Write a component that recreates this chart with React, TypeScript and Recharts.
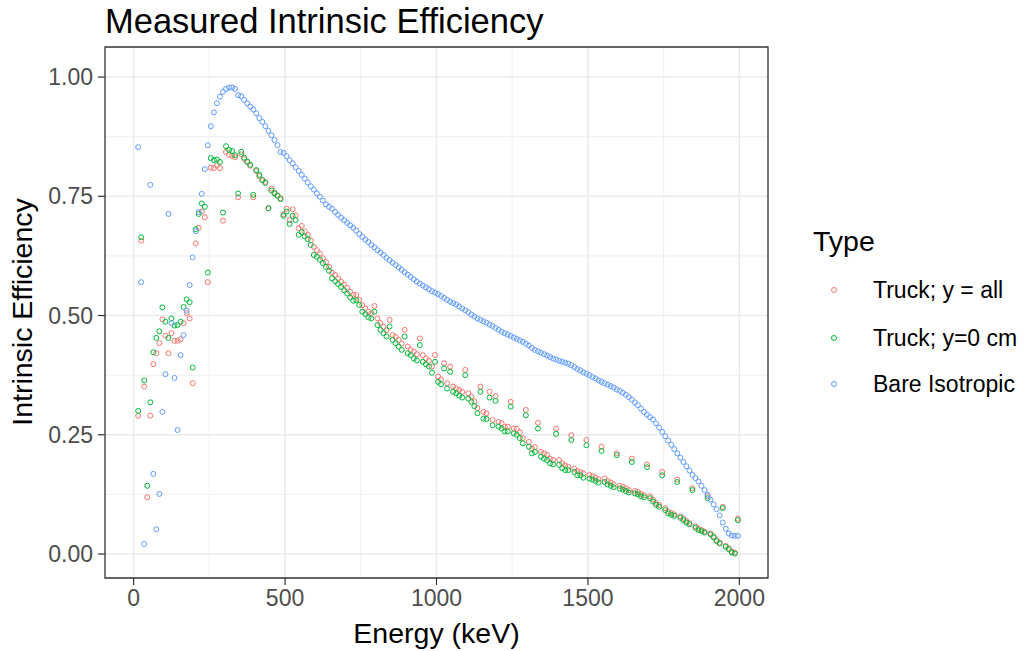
import React from 'react';
import {
  ScatterChart,
  Scatter,
  XAxis,
  YAxis,
  CartesianGrid,
  ReferenceArea,
} from 'recharts';

const FONT = '"Liberation Sans", Arial, Helvetica, sans-serif';

// energy bins (keV), one value per bin in every series below
const energyKeV = [
  15, 25, 35, 45, 55, 65, 75, 85, 95, 105,
  115, 125, 135, 145, 155, 165, 175, 185, 195, 205,
  215, 225, 235, 245, 255, 265, 275, 285, 295, 305,
  315, 325, 335, 345, 355, 365, 375, 385, 395, 405,
  415, 425, 435, 445, 455, 465, 475, 485, 495, 505,
  515, 525, 535, 545, 555, 565, 575, 585, 595, 605,
  615, 625, 635, 645, 655, 665, 675, 685, 695, 705,
  715, 725, 735, 745, 755, 765, 775, 785, 795, 805,
  815, 825, 835, 845, 855, 865, 875, 885, 895, 905,
  915, 925, 935, 945, 955, 965, 975, 985, 995, 1005,
  1015, 1025, 1035, 1045, 1055, 1065, 1075, 1085, 1095, 1105,
  1115, 1125, 1135, 1145, 1155, 1165, 1175, 1185, 1195, 1205,
  1215, 1225, 1235, 1245, 1255, 1265, 1275, 1285, 1295, 1305,
  1315, 1325, 1335, 1345, 1355, 1365, 1375, 1385, 1395, 1405,
  1415, 1425, 1435, 1445, 1455, 1465, 1475, 1485, 1495, 1505,
  1515, 1525, 1535, 1545, 1555, 1565, 1575, 1585, 1595, 1605,
  1615, 1625, 1635, 1645, 1655, 1665, 1675, 1685, 1695, 1705,
  1715, 1725, 1735, 1745, 1755, 1765, 1775, 1785, 1795, 1805,
  1815, 1825, 1835, 1845, 1855, 1865, 1875, 1885, 1895, 1905,
  1915, 1925, 1935, 1945, 1955, 1965, 1975, 1985, 1995,
];

const truckAll = [
  0.290, 0.657, 0.351, 0.119, 0.290, 0.398, 0.421, 0.442, 0.492, 0.458,
  0.421, 0.463, 0.447, 0.447, 0.450, 0.484, 0.505, 0.494, 0.358, 0.651,
  0.684, 0.718, 0.706, 0.570, 0.810, 0.809, 0.815, 0.809, 0.699, 0.843,
  0.837, 0.835, 0.832, 0.748, 0.838, 0.828, 0.822, 0.814, 0.748, 0.803,
  0.792, 0.784, 0.780, 0.725, 0.766, 0.758, 0.752, 0.746, 0.712, 0.724,
  0.700, 0.723, 0.710, 0.683, 0.688, 0.676, 0.669, 0.658, 0.644, 0.637,
  0.630, 0.620, 0.612, 0.602, 0.590, 0.585, 0.578, 0.571, 0.565, 0.558,
  0.550, 0.543, 0.543, 0.533, 0.522, 0.515, 0.508, 0.505, 0.520, 0.494,
  0.484, 0.476, 0.469, 0.491, 0.459, 0.455, 0.449, 0.441, 0.470, 0.435,
  0.428, 0.424, 0.419, 0.452, 0.417, 0.410, 0.405, 0.393, 0.417, 0.372,
  0.366, 0.400, 0.358, 0.393, 0.351, 0.347, 0.344, 0.340, 0.386, 0.337,
  0.330, 0.320, 0.306, 0.351, 0.298, 0.295, 0.340, 0.281, 0.331, 0.277,
  0.274, 0.267, 0.267, 0.319, 0.263, 0.262, 0.255, 0.243, 0.302, 0.235,
  0.221, 0.224, 0.275, 0.214, 0.211, 0.208, 0.200, 0.197, 0.263, 0.197,
  0.190, 0.186, 0.183, 0.249, 0.179, 0.174, 0.172, 0.169, 0.239, 0.166,
  0.163, 0.160, 0.157, 0.225, 0.158, 0.153, 0.150, 0.146, 0.211, 0.143,
  0.141, 0.138, 0.134, 0.200, 0.132, 0.130, 0.126, 0.123, 0.188, 0.121,
  0.114, 0.107, 0.103, 0.172, 0.096, 0.089, 0.086, 0.083, 0.156, 0.079,
  0.074, 0.069, 0.065, 0.138, 0.058, 0.053, 0.050, 0.047, 0.121, 0.043,
  0.037, 0.029, 0.024, 0.099, 0.017, 0.012, 0.005, 0.003, 0.074,
];

const truckY0 = [
  0.300, 0.664, 0.364, 0.143, 0.318, 0.423, 0.453, 0.467, 0.517, 0.487,
  0.453, 0.494, 0.479, 0.480, 0.487, 0.518, 0.534, 0.528, 0.391, 0.681,
  0.713, 0.735, 0.728, 0.590, 0.830, 0.826, 0.827, 0.822, 0.716, 0.855,
  0.847, 0.845, 0.836, 0.756, 0.843, 0.831, 0.823, 0.816, 0.753, 0.805,
  0.795, 0.784, 0.778, 0.725, 0.762, 0.756, 0.751, 0.744, 0.709, 0.718,
  0.692, 0.709, 0.700, 0.669, 0.675, 0.666, 0.660, 0.648, 0.627, 0.623,
  0.617, 0.610, 0.602, 0.594, 0.578, 0.572, 0.566, 0.560, 0.553, 0.546,
  0.538, 0.531, 0.532, 0.522, 0.508, 0.503, 0.496, 0.494, 0.508, 0.480,
  0.470, 0.463, 0.456, 0.477, 0.449, 0.442, 0.435, 0.428, 0.456, 0.421,
  0.417, 0.410, 0.406, 0.438, 0.403, 0.398, 0.393, 0.380, 0.403, 0.361,
  0.356, 0.389, 0.347, 0.382, 0.340, 0.337, 0.332, 0.328, 0.375, 0.326,
  0.319, 0.310, 0.295, 0.340, 0.284, 0.283, 0.328, 0.270, 0.321, 0.267,
  0.263, 0.257, 0.257, 0.309, 0.253, 0.250, 0.243, 0.232, 0.291, 0.225,
  0.211, 0.214, 0.263, 0.204, 0.200, 0.197, 0.190, 0.188, 0.252, 0.187,
  0.180, 0.176, 0.176, 0.239, 0.172, 0.165, 0.165, 0.160, 0.228, 0.158,
  0.156, 0.153, 0.150, 0.216, 0.151, 0.146, 0.143, 0.140, 0.207, 0.137,
  0.135, 0.132, 0.129, 0.193, 0.127, 0.125, 0.121, 0.119, 0.182, 0.117,
  0.110, 0.103, 0.099, 0.165, 0.092, 0.085, 0.082, 0.080, 0.151, 0.076,
  0.071, 0.066, 0.062, 0.134, 0.055, 0.050, 0.048, 0.045, 0.117, 0.041,
  0.035, 0.027, 0.022, 0.096, 0.015, 0.010, 0.003, 0.001, 0.071,
];

const bareIsotropic = [
  0.853, 0.570, 0.021, null, 0.774, 0.168, 0.052, 0.126, 0.298, 0.377,
  0.713, 0.484, 0.369, 0.260, 0.417, 0.459, 0.510, 0.564, 0.622, 0.677,
  0.717, 0.755, 0.807, 0.857, 0.897, 0.926, 0.945, 0.959, 0.969, 0.975,
  0.978, 0.978, 0.975, 0.962, 0.960, 0.952, 0.945, 0.938, 0.932, 0.924,
  0.914, 0.906, 0.897, 0.887, 0.878, 0.868, 0.857, 0.843, 0.841, 0.834,
  0.826, 0.819, 0.811, 0.803, 0.795, 0.787, 0.779, 0.771, 0.764, 0.756,
  0.749, 0.741, 0.733, 0.728, 0.724, 0.717, 0.711, 0.705, 0.700, 0.694,
  0.689, 0.684, 0.678, 0.671, 0.665, 0.659, 0.654, 0.648, 0.643, 0.637,
  0.632, 0.627, 0.621, 0.616, 0.611, 0.606, 0.601, 0.596, 0.591, 0.586,
  0.581, 0.576, 0.571, 0.567, 0.563, 0.559, 0.555, 0.551, 0.548, 0.545,
  0.541, 0.537, 0.533, 0.529, 0.526, 0.523, 0.519, 0.515, 0.511, 0.507,
  0.502, 0.498, 0.494, 0.491, 0.488, 0.485, 0.481, 0.478, 0.474, 0.470,
  0.466, 0.463, 0.460, 0.457, 0.454, 0.451, 0.448, 0.445, 0.441, 0.437,
  0.432, 0.428, 0.425, 0.422, 0.419, 0.416, 0.413, 0.410, 0.408, 0.405,
  0.403, 0.401, 0.399, 0.396, 0.392, 0.388, 0.385, 0.381, 0.378, 0.375,
  0.371, 0.368, 0.364, 0.361, 0.358, 0.355, 0.352, 0.349, 0.345, 0.342,
  0.338, 0.334, 0.329, 0.324, 0.318, 0.312, 0.305, 0.298, 0.292, 0.287,
  0.282, 0.274, 0.265, 0.256, 0.247, 0.238, 0.229, 0.220, 0.211, 0.202,
  0.193, 0.184, 0.175, 0.166, 0.159, 0.152, 0.143, 0.134, 0.124, 0.114,
  0.104, 0.094, 0.081, 0.066, 0.053, 0.043, 0.039, 0.038, 0.038,
];

const seriesNames = ['Truck; y = all', 'Truck; y=0 cm', 'Bare Isotropic'];
const seriesColors = ['#F8766D', '#00BA38', '#619CFF'];

const xTicks = [0, 500, 1000, 1500, 2000];
const xMinor = [250, 750, 1250, 1750];
const yTicks = [0, 0.25, 0.5, 0.75, 1];
const yMinor = [0.125, 0.375, 0.625, 0.875];

const X_DOMAIN: [number, number] = [-94.5, 2094.5];
const Y_DOMAIN: [number, number] = [-0.0503, 1.063];

const POINT_R = 2.5;

const toPoints = (values: (number | null)[]) =>
  energyKeV
    .map((e, i) => ({ energy: e, eff: values[i] }))
    .filter((p) => p.eff !== null && p.eff !== undefined);

const seriesData = [toPoints(truckAll), toPoints(truckY0), toPoints(bareIsotropic)];

// ggplot shape 1: small open circle
const openCircle = (color: string) => (props: any) => {
  const { cx, cy } = props;
  if (cx == null || cy == null) return <g />;
  return <circle cx={cx} cy={cy} r={POINT_R} fill="none" stroke={color} strokeWidth={1} />;
};

export default function App() {
  return (
    <div
      style={{
        position: 'absolute',
        left: 0,
        top: 0,
        width: 1026,
        height: 651,
        background: '#ffffff',
        fontFamily: FONT,
      }}
    >
      <div
        style={{
          position: 'absolute',
          left: 105,
          top: 4,
          fontSize: 34.5,
          lineHeight: '34px',
          color: '#000000',
          whiteSpace: 'nowrap',
        }}
      >
        Measured Intrinsic Efficiency
      </div>

      <ScatterChart
        width={1026}
        height={651}
        margin={{ top: 47, right: 258, bottom: 0, left: 0 }}
        style={{ position: 'absolute', left: 0, top: 0 }}
      >
        <CartesianGrid
          horizontalValues={yMinor}
          verticalValues={xMinor}
          stroke="#EBEBEB"
          strokeWidth={0.8}
          fill="none"
        />
        <CartesianGrid
          horizontalValues={yTicks}
          verticalValues={xTicks}
          stroke="#EBEBEB"
          strokeWidth={1.6}
          fill="none"
        />
        <XAxis
          type="number"
          dataKey="energy"
          domain={X_DOMAIN}
          ticks={xTicks}
          allowDataOverflow
          height={73}
          axisLine={false}
          tickSize={7}
          tickMargin={5}
          tickLine={{ stroke: '#333333', strokeWidth: 1.2 }}
          tick={{ fill: '#4D4D4D', fontSize: 23, fontFamily: FONT }}
          label={{
            value: 'Energy (keV)',
            position: 'insideBottom',
            offset: 8,
            fill: '#000000',
            fontSize: 28.5,
            fontFamily: FONT,
          }}
        />
        <YAxis
          type="number"
          dataKey="eff"
          domain={Y_DOMAIN}
          ticks={yTicks}
          allowDataOverflow
          width={105}
          axisLine={false}
          tickSize={7}
          tickMargin={5}
          tickLine={{ stroke: '#333333', strokeWidth: 1.2 }}
          tickFormatter={(v: number) => v.toFixed(2)}
          tick={{ fill: '#4D4D4D', fontSize: 23, fontFamily: FONT }}
          label={{
            content: () => (
              <text
                x={22}
                y={312}
                transform="rotate(-90 22 312)"
                textAnchor="middle"
                dominantBaseline="central"
                fill="#000000"
                fontSize={28.5}
                fontFamily={FONT}
              >
                Intrinsic Efficiency
              </text>
            ),
          }}
        />
        {seriesData.map((pts, i) => (
          <Scatter
            key={seriesNames[i]}
            name={seriesNames[i]}
            data={pts}
            fill={seriesColors[i]}
            shape={openCircle(seriesColors[i])}
            isAnimationActive={false}
          />
        ))}
        <ReferenceArea
          x1={X_DOMAIN[0]}
          x2={X_DOMAIN[1]}
          y1={Y_DOMAIN[0]}
          y2={Y_DOMAIN[1]}
          fill="none"
          fillOpacity={0}
          stroke="#333333"
          strokeWidth={1.3}
          ifOverflow="visible"
        />
      </ScatterChart>

      <svg
        width={226}
        height={220}
        style={{ position: 'absolute', left: 800, top: 200 }}
      >
        <text x={13} y={51} fontSize={28.5} fontFamily={FONT} fill="#000000">
          Type
        </text>
        {seriesNames.map((name, i) => {
          const cy = [90, 138, 184][i];
          return (
            <g key={name}>
              <circle cx={34} cy={cy} r={POINT_R} fill="none" stroke={seriesColors[i]} strokeWidth={1} />
              <text x={73} y={cy + 8} fontSize={23} fontFamily={FONT} fill="#000000">
                {name}
              </text>
            </g>
          );
        })}
      </svg>
    </div>
  );
}
